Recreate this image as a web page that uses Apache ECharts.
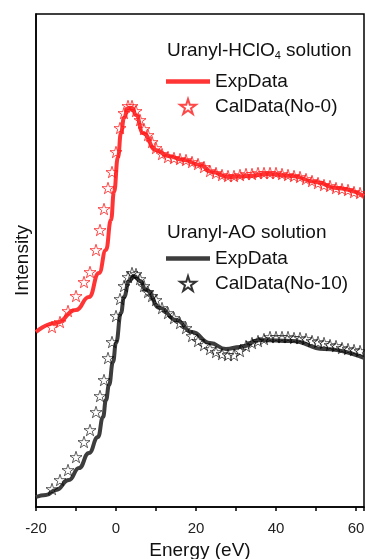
<!DOCTYPE html>
<html>
<head>
<meta charset="utf-8">
<script src="https://cdn.jsdelivr.net/npm/echarts@6/dist/echarts.min.js"></script>
<style>
  html, body { margin: 0; padding: 0; background: #fff; }
  #chart { width: 365px; height: 559px; }
</style>
</head>
<body>
<div id="chart"></div>
<script>
// energy ticks (eV)
var xTicks = [-20, 0, 20, 40, 60];

// Uranyl-HClO4, experimental
var hclExpX = [-20, -15, -10, -6.75, -4.25, -2.5, -1.25, -0.5, 0.5, 1.25, 2, 3, 4, 5, 6.75, 10, 13, 17, 21, 24, 28, 33, 38, 44, 50, 55, 62];
var hclExpY = [175, 184, 197, 210, 234, 257, 287, 315, 350, 374, 389, 399, 399, 392, 374, 357, 351, 347, 342, 335, 330, 331, 333, 331, 325, 319, 311];

// Uranyl-AO, experimental
var aoExpX = [-20, -17.5, -15, -11.75, -9.25, -6.75, -4.5, -3.25, -2.5, -1.75, -0.75, 0, 1.25, 2, 3.25, 4.5, 6, 7.5, 11, 15, 19, 23.5, 27.5, 31, 36, 44, 52, 62];
var aoExpY = [10, 12, 17, 27, 39, 54, 70, 90, 107, 122, 145, 164, 194, 210, 226, 231, 226, 217, 199, 187, 175, 164, 158, 160, 167, 166, 158, 149];

// calculated spectra share one energy grid
var calX = [-16, -14, -12, -10, -8, -6.5, -5, -4, -3, -2, -1, 0, 1, 2, 3, 4, 5, 6, 7, 8, 9, 10,
  11.5, 13, 14.5, 16, 17.5, 19, 20.5, 22, 23.5, 25, 26.5, 28, 29.5, 31, 32.5, 34, 35.5, 37, 38.5, 40,
  41.5, 43, 44.5, 46, 47.5, 49, 50.5, 52, 53.5, 55, 56.5, 58, 59.5, 61];
var hclCalY = [180, 185, 196, 211, 225, 235, 257, 277, 298, 319, 335, 355, 379, 394, 401, 401, 396, 387, 378, 372, 365, 359,
  353, 350, 349, 348, 347, 345, 343, 340, 336, 334, 332, 331, 331, 332, 333, 333, 334, 334, 334, 334,
  333, 332, 331, 330, 328, 326, 324, 322, 321, 319, 318, 317, 315, 314];
var aoCalY = [18, 27, 37, 50, 65, 77, 95, 111, 127, 149, 165, 191, 208, 221, 230, 234, 233, 228, 221, 215, 211, 207,
  199, 194, 189, 184, 179, 171, 166, 162, 158, 155, 153, 152, 152, 156, 161, 164, 166, 168, 170, 170,
  170, 170, 169, 169, 168, 166, 165, 164, 162, 161, 159, 158, 157, 156];

function zip(xs, ys) {
  return xs.map(function (x, i) { return [x, ys[i]]; });
}

var star = 'path://M50,0 L61,35 L98,35 L68,57 L79,91 L50,70 L21,91 L32,57 L2,35 L39,35 Z';
var bar = 'path://M0,0 L100,0 L100,10 L0,10 Z';
var red = '#ff3535';
var redStar = '#ff1a1a';
var dark = '#3d3d3d';
var font = 'Liberation Sans';

var chart = echarts.init(document.getElementById('chart'));

var option = {
  animation: false,
  backgroundColor: '#fff',
  grid: {
    left: 36, right: 1, top: 14, bottom: 52,
    outerBoundsMode: 'none',
    show: true, borderColor: '#000', borderWidth: 1.5
  },
  xAxis: {
    type: 'value',
    min: -20, max: 62, interval: 10,
    name: 'Energy (eV)',
    nameLocation: 'middle',
    nameGap: 31,
    nameTextStyle: { fontSize: 19, color: '#111', fontFamily: font },
    axisLine: { onZero: false, lineStyle: { color: '#000', width: 1.5 } },
    axisTick: { length: 4, lineStyle: { color: '#000', width: 1.5 } },
    axisLabel: {
      fontSize: 15, color: '#222', margin: 14, fontFamily: font,
      formatter: function (v) { return xTicks.indexOf(v) >= 0 ? String(v) : ''; }
    },
    splitLine: { show: false }
  },
  yAxis: {
    type: 'value',
    min: 0, max: 493,
    name: 'Intensity',
    nameLocation: 'middle',
    nameGap: 4,
    nameTextStyle: { fontSize: 19, color: '#111', fontFamily: font },
    axisLine: { show: true, onZero: false, lineStyle: { color: '#000', width: 1.5 } },
    axisTick: { show: false },
    axisLabel: { show: false },
    splitLine: { show: false }
  },
  legend: [
    {
      orient: 'vertical', left: 161, top: 67, itemWidth: 44, itemHeight: 15, itemGap: 6,
      selectedMode: false,
      textStyle: { fontSize: 19, color: '#111', fontFamily: font },
      data: [{ name: 'ExpData', icon: bar }, 'CalData(No-0)']
    },
    {
      orient: 'vertical', left: 161, top: 244, itemWidth: 44, itemHeight: 15, itemGap: 6,
      selectedMode: false,
      textStyle: { fontSize: 19, color: '#111', fontFamily: font },
      data: [{ name: 'ExpData ', icon: bar }, 'CalData(No-10)']
    }
  ],
  graphic: [
    {
      type: 'text', left: 167, top: 41,
      style: {
        text: '{a|Uranyl-HClO}{s|4}{a| solution}',
        fill: '#111',
        rich: {
          a: { fontSize: 19, lineHeight: 22, fontFamily: font, fill: '#111' },
          s: { fontSize: 11, lineHeight: 11, verticalAlign: 'bottom', fontFamily: font, fill: '#111' }
        }
      }
    },
    {
      type: 'text', left: 167, top: 223,
      style: { text: 'Uranyl-AO solution', fontSize: 19, fontFamily: font, fill: '#111' }
    }
  ],
  series: [
    {
      name: 'ExpData', type: 'line', data: zip(hclExpX, hclExpY),
      smooth: true, smoothMonotone: 'x', symbol: 'none',
      lineStyle: { color: red, width: 4 }, itemStyle: { color: red }, z: 2
    },
    {
      name: 'CalData(No-0)', type: 'scatter', data: zip(calX, hclCalY),
      symbol: star, symbolSize: 12, symbolKeepAspect: true,
      itemStyle: { color: 'rgba(0,0,0,0)', borderColor: redStar, borderWidth: 1 }, z: 3
    },
    {
      name: 'ExpData ', type: 'line', data: zip(aoExpX, aoExpY),
      smooth: true, smoothMonotone: 'x', symbol: 'none',
      lineStyle: { color: dark, width: 4 }, itemStyle: { color: dark }, z: 2
    },
    {
      name: 'CalData(No-10)', type: 'scatter', data: zip(calX, aoCalY),
      symbol: star, symbolSize: 12, symbolKeepAspect: true,
      itemStyle: { color: 'rgba(0,0,0,0)', borderColor: '#000', borderWidth: 0.8 }, z: 3
    }
  ]
};

chart.setOption(option);
</script>
</body>
</html>
